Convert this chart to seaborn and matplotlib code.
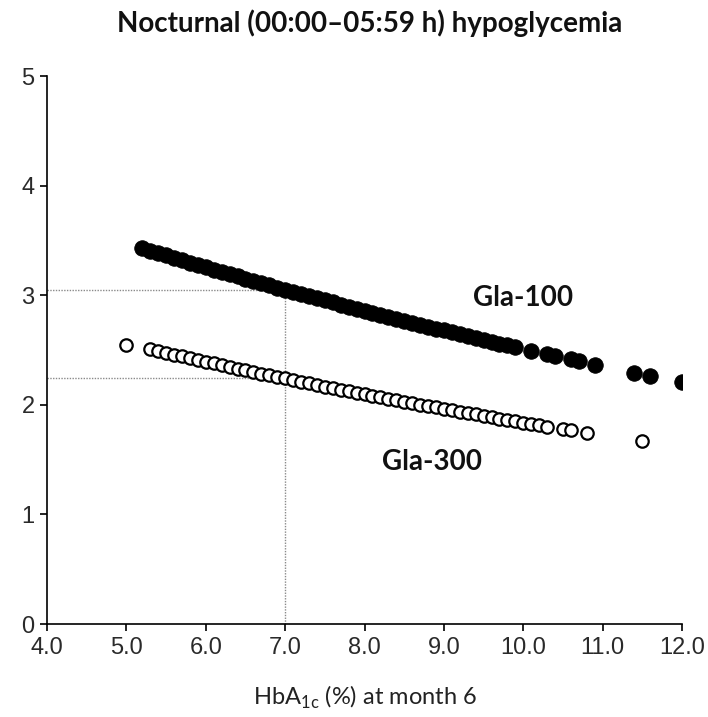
import matplotlib
matplotlib.use("Agg")
import matplotlib.pyplot as plt
import seaborn as sns
import pandas as pd

# HbA1c at month 6 (%) and predicted nocturnal hypoglycemia rate
gla100_x = [5.2, 5.3, 5.4, 5.5, 5.6, 5.7, 5.8, 5.9, 6.0, 6.1, 6.2, 6.3, 6.4, 6.5, 6.6,
            6.7, 6.8, 6.9, 7.0, 7.1, 7.2, 7.3, 7.4, 7.5, 7.6, 7.7, 7.8, 7.9, 8.0, 8.1,
            8.2, 8.3, 8.4, 8.5, 8.6, 8.7, 8.8, 8.9, 9.0, 9.1, 9.2, 9.3, 9.4, 9.5, 9.6,
            9.7, 9.8, 9.9, 10.1, 10.3, 10.4, 10.6, 10.7, 10.9, 11.4, 11.6, 12.0]
gla100_y = [3.429, 3.407, 3.385, 3.363, 3.341, 3.319, 3.298, 3.277, 3.255, 3.234, 3.213,
            3.192, 3.172, 3.151, 3.131, 3.111, 3.090, 3.070, 3.050, 3.030, 3.011, 2.991,
            2.972, 2.953, 2.934, 2.915, 2.896, 2.877, 2.858, 2.840, 2.821, 2.803, 2.785,
            2.767, 2.749, 2.731, 2.714, 2.696, 2.678, 2.661, 2.644, 2.627, 2.610, 2.593,
            2.576, 2.559, 2.543, 2.526, 2.493, 2.461, 2.445, 2.414, 2.398, 2.367, 2.292,
            2.262, 2.204]

gla300_x = [5.0, 5.3, 5.4, 5.5, 5.6, 5.7, 5.8, 5.9, 6.0, 6.1, 6.2, 6.3, 6.4, 6.5, 6.6,
            6.7, 6.8, 6.9, 7.0, 7.1, 7.2, 7.3, 7.4, 7.5, 7.6, 7.7, 7.8, 7.9, 8.0, 8.1,
            8.2, 8.3, 8.4, 8.5, 8.6, 8.7, 8.8, 8.9, 9.0, 9.1, 9.2, 9.3, 9.4, 9.5, 9.6,
            9.7, 9.8, 9.9, 10.0, 10.1, 10.2, 10.3, 10.5, 10.6, 10.8, 11.5]
gla300_y = [2.550, 2.506, 2.490, 2.473, 2.457, 2.441, 2.425, 2.409, 2.393, 2.377, 2.361,
            2.346, 2.331, 2.315, 2.300, 2.285, 2.270, 2.255, 2.240, 2.225, 2.211, 2.196,
            2.182, 2.167, 2.153, 2.139, 2.125, 2.111, 2.097, 2.083, 2.069, 2.056, 2.042,
            2.029, 2.016, 2.002, 1.989, 1.976, 1.963, 1.950, 1.937, 1.925, 1.912, 1.899,
            1.887, 1.874, 1.862, 1.850, 1.838, 1.826, 1.814, 1.802, 1.778, 1.766, 1.743,
            1.666]

# Reference readout at HbA1c 7.0 %
ref_x = 7.0
ref_gla100 = 3.05
ref_gla300 = 2.24

x_ticks = [4.0, 5.0, 6.0, 7.0, 8.0, 9.0, 10.0, 11.0, 12.0]
y_ticks = [0, 1, 2, 3, 4, 5]

title = "Nocturnal (00:00\u201305:59 h) hypoglycemia"
xlabel = r"HbA$_{\mathregular{1c}}$ (%) at month 6"

sns.set_theme(style="white")
plt.rcParams["font.family"] = ["Liberation Sans", "DejaVu Sans"]
plt.rcParams["mathtext.fontset"] = "custom"
plt.rcParams["mathtext.rm"] = "Lato"

df100 = pd.DataFrame({"hba1c": gla100_x, "rate": gla100_y})
df300 = pd.DataFrame({"hba1c": gla300_x, "rate": gla300_y})

fig = plt.figure(figsize=(7.08, 7.17), dpi=100)
ax = fig.add_axes([0.0664, 0.1297, 0.8969, 0.7643])

# dotted guide lines at HbA1c 7.0 %
guide = dict(color="#8a8a8a", lw=1.0, ls=(0, (1, 1)), zorder=1)
ax.plot([4.0, ref_x], [ref_gla100, ref_gla100], **guide)
ax.plot([4.0, ref_x], [ref_gla300, ref_gla300], **guide)
ax.plot([ref_x, ref_x], [0, ref_gla100], **guide)

sns.scatterplot(data=df100, x="hba1c", y="rate", ax=ax, s=125, color="black",
                edgecolor="black", linewidth=0.6, zorder=3, legend=False)
sns.scatterplot(data=df300, x="hba1c", y="rate", ax=ax, s=80, facecolor="white",
                edgecolor="black", linewidth=1.6, zorder=3, legend=False)

ax.set_xlim(4.0, 12.0)
ax.set_ylim(0, 5)
ax.set_xticks(x_ticks)
ax.set_xticklabels([f"{t:.1f}" for t in x_ticks])
ax.set_yticks(y_ticks)
ax.set_yticklabels([str(t) for t in y_ticks])

for side in ("top", "right"):
    ax.spines[side].set_visible(False)
for side in ("left", "bottom"):
    ax.spines[side].set_color("black")
    ax.spines[side].set_linewidth(1.2)

ax.tick_params(axis="both", which="major", direction="out", length=5, width=1.2,
               color="black", labelsize=17, labelcolor="#2a2a2a", pad=4,
               bottom=True, left=True)

ax.set_xlabel(xlabel, fontsize=17, family=["Lato", "DejaVu Sans"], color="#222222",
              labelpad=18)
ax.set_ylabel("")

fig.text(0.522, 0.968, title, ha="center", va="center", fontsize=20,
         fontweight="bold", family=["Lato", "DejaVu Sans"], color="#111111")

ax.text(10.0, 2.97, "Gla-100", ha="center", va="center", fontsize=20,
        fontweight="bold", family=["Lato", "DejaVu Sans"], color="#111111")
ax.text(8.85, 1.48, "Gla-300", ha="center", va="center", fontsize=20,
        fontweight="bold", family=["Lato", "DejaVu Sans"], color="#111111")

fig.savefig("out.png", dpi=100, facecolor="white")
